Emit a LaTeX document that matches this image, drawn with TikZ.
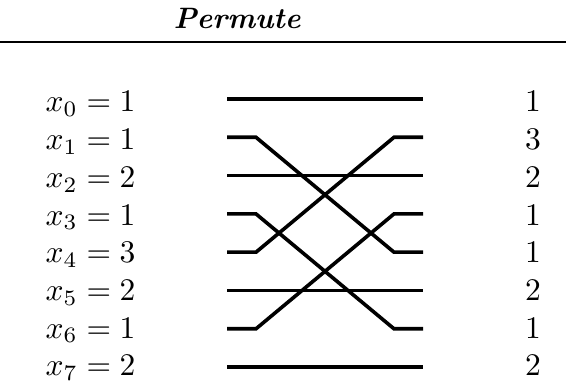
\documentclass[tikz,border=0pt]{standalone}
\begin{document}
\begin{tikzpicture}[x=1pt,y=-1pt,
  wire/.style={line width=3.6pt},
  lab/.style={anchor=base west,inner sep=0pt,scale=3.15},
  outlab/.style={anchor=base,inner sep=0pt,scale=3.15}]
\useasboundingbox (0,0) rectangle (566,385);
\node[anchor=base,inner sep=0pt,scale=2.95,font=\bfseries\itshape] (title) at (237,29) {Permute};
\coordinate (rl) at (0,42);
\coordinate (rr) at (566,42);
\draw[line width=2pt] (rl) -- (rr);
\foreach \i/\v/\o in {0/1/1,1/1/3,2/2/2,3/1/1,4/3/1,5/2/2,6/1/1,7/2/2}{
  \pgfmathsetmacro{\yw}{99+38.3*\i}
  \pgfmathsetmacro{\yt}{112+37.7*\i}
  \node[lab] (in\i) at (45,\yt) {$x_{\i} = \v$};
  \node[outlab] (out\i) at (533,\yt) {\o};
  \coordinate (a\i) at (227,\yw);
  \coordinate (b\i) at (256,\yw);
  \coordinate (c\i) at (394,\yw);
  \coordinate (d\i) at (423,\yw);
}
\draw[wire] (a0) -- (d0);
\draw[wire] (a2) -- (d2);
\draw[wire] (a5) -- (d5);
\draw[wire] (a7) -- (d7);
\draw[wire,line join=miter] (a1) -- (b1) -- (c4) -- (d4);
\draw[wire,line join=miter] (a4) -- (b4) -- (c1) -- (d1);
\draw[wire,line join=miter] (a3) -- (b3) -- (c6) -- (d6);
\draw[wire,line join=miter] (a6) -- (b6) -- (c3) -- (d3);
\end{tikzpicture}
\end{document}
